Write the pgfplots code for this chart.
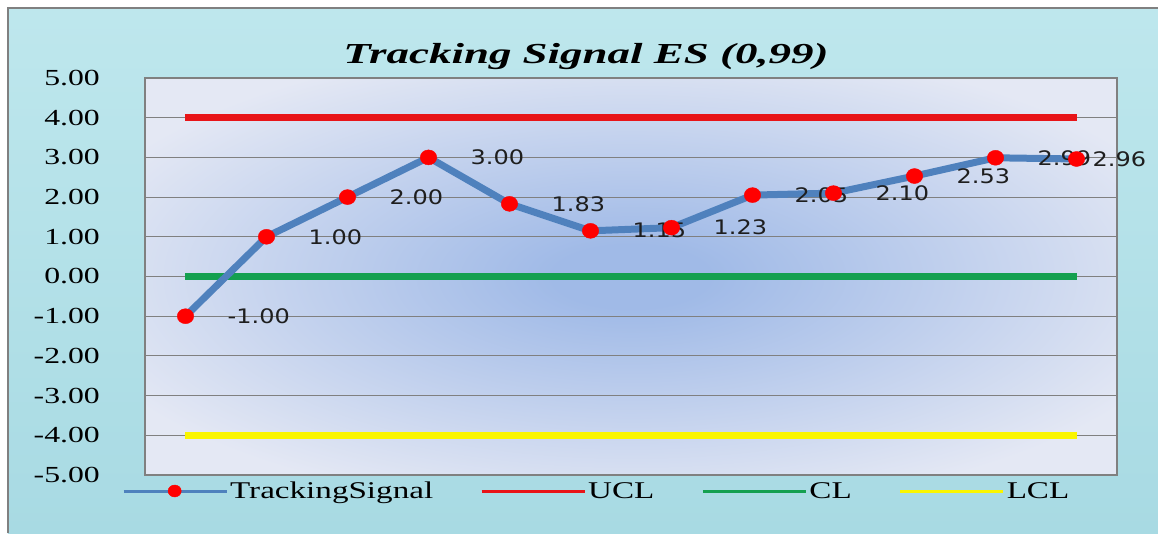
\documentclass[border=0pt]{standalone}
\usepackage{fontspec}
\usepackage{pgfplots}
\pgfplotsset{compat=1.18}
\newfontfamily\tickfont[FakeStretch=1.38]{Liberation Serif}
\newfontfamily\titlefont[FakeStretch=1.55]{Liberation Serif}
\newfontfamily\labelfont[FakeStretch=1.2]{DejaVu Sans}

\definecolor{tsblue}{RGB}{79,129,189}
\definecolor{uclred}{RGB}{232,20,24}
\definecolor{clgreen}{RGB}{20,160,80}
\definecolor{lclyellow}{RGB}{250,245,0}
\definecolor{gridgray}{RGB}{128,128,128}
\definecolor{bgcyan}{RGB}{168,218,227}
\definecolor{bgcyanlight}{RGB}{190,231,237}
\definecolor{bgin}{RGB}{160,186,231}
\definecolor{bgout}{RGB}{228,232,244}

\pgfdeclareradialshading{plotbg}{\pgfpoint{0bp}{0bp}}{color(0bp)=(bgin); color(4bp)=(bgin); color(30bp)=(bgout); color(50bp)=(bgout)}

\begin{document}
\begin{tikzpicture}[x=1pt,y=1pt]
\path[use as bounding box] (-145,-58) rectangle (1013,475);
\fill[white] (-145,-58) rectangle (1013,475);
\shade[top color=bgcyanlight, bottom color=bgcyan] (-137,-58) rectangle (1013,467);
\draw[gridgray, line width=2pt] (-137,-58) -- (-137,467) -- (1013,467);
\begin{axis}[
  at={(0,0)}, anchor=south west,
  scale only axis, width=972pt, height=397pt,
  xmin=-0.5, xmax=11.5, ymin=-5, ymax=5,
  xtick=\empty,
  ytick={-5,-4,-3,-2,-1,0,1,2,3,4,5},
  yticklabels={-5.00,-4.00,-3.00,-2.00,-1.00,0.00,1.00,2.00,3.00,4.00,5.00},
  ymajorgrids,
  grid style={gridgray, line width=1pt},
  major tick length=0pt,
  axis line style={gridgray, line width=1.2pt},
  tick label style={font=\tickfont\fontsize{23}{26}\selectfont},
  yticklabel style={anchor=east, inner sep=0pt, xshift=-45pt},
  axis background/.style={shading=plotbg},
  clip=false,
  title={Tracking Signal ES (0,99)},
  title style={at={(axis description cs:0.4537,1.0202)}, anchor=base, inner sep=0pt,
    font=\titlefont\bfseries\itshape\fontsize{29}{32}\selectfont},
  legend columns=4,
  legend style={at={(axis description cs:-0.0237,-0.0403)}, anchor=west,
    draw=none, fill=none, inner sep=0pt,
    font=\tickfont\fontsize{24}{26}\selectfont,
    /tikz/every even column/.append style={column sep=45pt}},
  legend image code/.code={\draw[mark repeat=2,mark phase=2,#1,line width=3pt,mark size=6pt]
    plot coordinates {(0pt,0pt)(51pt,0pt)(103pt,0pt)};},
]
  \addlegendimage{tsblue, mark=*, mark options={fill=red, draw=red, line width=0.4pt, xscale=1.1}}
  \addlegendentry{TrackingSignal}

  \addplot[uclred, line width=6.5pt] coordinates {
    (0,4) (1,4) (2,4) (3,4) (4,4) (5,4) (6,4) (7,4) (8,4) (9,4) (10,4) (11,4)
  };
  \addlegendentry{UCL}

  \addplot[clgreen, line width=6.5pt] coordinates {
    (0,0) (1,0) (2,0) (3,0) (4,0) (5,0) (6,0) (7,0) (8,0) (9,0) (10,0) (11,0)
  };
  \addlegendentry{CL}

  \addplot[lclyellow, line width=6.5pt] coordinates {
    (0,-4) (1,-4) (2,-4) (3,-4) (4,-4) (5,-4) (6,-4) (7,-4) (8,-4) (9,-4) (10,-4) (11,-4)
  };
  \addlegendentry{LCL}

  % tracking signal; label to the right of each point (last one pulled in)
  \addplot[tsblue, line width=7pt, line join=round, forget plot,
    mark=*, mark size=7.5pt, mark options={fill=red, draw=red, line width=0.4pt, xscale=1.1},
    nodes near coords, point meta=explicit symbolic,
    visualization depends on={\thisrow{s}\as\lshift},
    nodes near coords style={anchor=west, inner sep=0pt, xshift=\lshift pt,
      text={rgb,255:red,30;green,30;blue,30}, font=\labelfont\fontsize{20}{22}\selectfont}]
  table[x=x, y=y, meta=lab] {
    x  y     lab   s
    0  -1.00 -1.00 42
    1  1.00  1.00  42
    2  2.00  2.00  42
    3  3.00  3.00  42
    4  1.83  1.83  42
    5  1.15  1.15  42
    6  1.23  1.23  42
    7  2.05  2.05  42
    8  2.10  2.10  42
    9  2.53  2.53  42
    10 2.99  2.99  42
    11 2.96  2.96  16
  };
\end{axis}
\end{tikzpicture}
\end{document}
